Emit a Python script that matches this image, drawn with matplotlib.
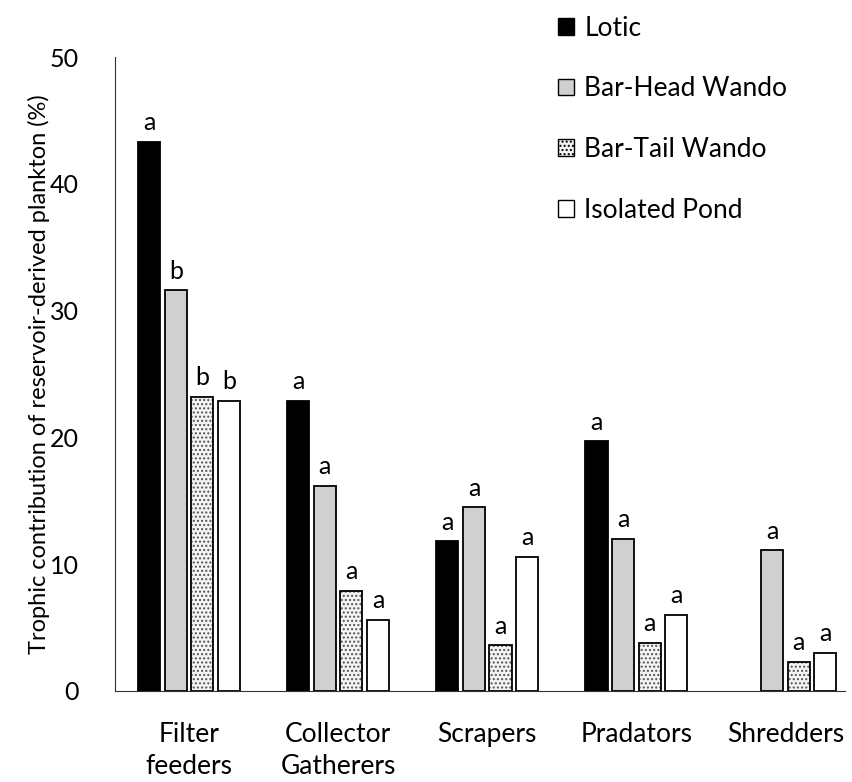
import numpy as np
import matplotlib.pyplot as plt
from matplotlib.patches import Patch

plt.rcParams['font.family'] = ['Lato', 'DejaVu Sans']

# data
groups = ['Filter\nfeeders', 'Collector\nGatherers', 'Scrapers', 'Pradators', 'Shredders']
series = ['Lotic', 'Bar-Head Wando', 'Bar-Tail Wando', 'Isolated Pond']
lotic = [43.3, 22.9, 11.8, 19.7, 0.0]
bar_head = [31.6, 16.2, 14.5, 12.0, 11.1]
bar_tail = [23.2, 7.9, 3.6, 3.8, 2.3]
isolated = [22.9, 5.6, 10.6, 6.0, 3.0]
letters_lotic = ['a', 'a', 'a', 'a', '']
letters_head = ['b', 'a', 'a', 'a', 'a']
letters_tail = ['b', 'a', 'a', 'a', 'a']
letters_iso = ['b', 'a', 'a', 'a', 'a']

values = [lotic, bar_head, bar_tail, isolated]
letters = [letters_lotic, letters_head, letters_tail, letters_iso]
faces = ['black', '#d0d0d0', '#f4f4f4', 'white']
hatches = [None, None, '....', None]

fig = plt.figure(figsize=(8.53, 7.82), dpi=100)
ax = fig.add_axes([115 / 853, 1 - 691 / 782, (845 - 115) / 853, (691 - 57) / 782])

x = np.arange(len(groups))
pitch = 0.178
width = 0.148
for i in range(4):
    pos = x + (i - 1.5) * pitch
    vals = np.array(values[i])
    keep = vals > 0
    if hatches[i]:
        ax.bar(pos[keep], vals[keep], width, color=faces[i], edgecolor='#555555', hatch=hatches[i], linewidth=0)
        ax.bar(pos[keep], vals[keep], width, fill=False, edgecolor='black', linewidth=1.3)
    else:
        ax.bar(pos[keep], vals[keep], width, color=faces[i], edgecolor='black', linewidth=1.3)
    for p, v, t in zip(pos, vals, letters[i]):
        if t:
            ax.text(p, v + 0.6, t, ha='center', va='bottom', fontsize=18)

ax.set_xlim(-0.497, 4.40)
ax.set_ylim(0, 50)
ax.set_yticks([0, 10, 20, 30, 40, 50])
ax.set_xticks(x)
ax.set_xticklabels(groups, fontsize=19, linespacing=1.35)
ax.tick_params(axis='y', length=0, pad=26, labelsize=18)
ax.tick_params(axis='x', length=0, pad=22)
ax.spines['top'].set_visible(False)
ax.spines['right'].set_visible(False)
ax.spines['left'].set_color('#333333')
ax.spines['bottom'].set_color('#333333')
ax.set_ylabel('Trophic contribution of reservoir-derived plankton (%)', fontsize=17, labelpad=0)

handles = []
for i in range(4):
    handles.append(Patch(facecolor=faces[i], edgecolor='black', hatch=hatches[i], linewidth=1))
fig.legend(handles, series, loc='upper left', bbox_to_anchor=(534 / 853, 1 + 8 / 782),
           frameon=False, fontsize=19, handlelength=0.6, handleheight=0.6,
           handletextpad=0.4, labelspacing=1.35)

fig.savefig('out.png', dpi=100)
